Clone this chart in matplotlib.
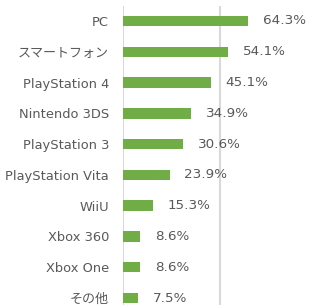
import matplotlib

matplotlib.use("Agg")
import matplotlib.pyplot as plt

categories = [
    "PC",
    "スマートフォン",
    "PlayStation 4",
    "Nintendo 3DS",
    "PlayStation 3",
    "PlayStation Vita",
    "WiiU",
    "Xbox 360",
    "Xbox One",
    "その他",
]
values = [64.3, 54.1, 45.1, 34.9, 30.6, 23.9, 15.3, 8.6, 8.6, 7.5]

BAR = "#70AD47"
TEXT = "#595959"
GRID = "#D9D9D9"

plt.rcParams["font.family"] = ["DejaVu Sans", "Noto Sans CJK JP"]

W, H = 310, 305
fig = plt.figure(figsize=(W / 100, H / 100), dpi=100)
ax = fig.add_axes([123 / W, (305 - 313.4) / H, 187 / W, 307.8 / H])

pos = list(range(len(categories)))
ax.barh(pos, values, height=0.34, color=BAR, zorder=3)
for y, v in zip(pos, values):
    ax.text(v + 7.7, y, f"{v:.1f}%", va="center", ha="left", fontsize=9.7, color=TEXT)

ax.set_xlim(0, 96.1)
ax.set_ylim(len(categories) - 0.5, -0.5)
ax.set_yticks(pos)
ax.set_yticklabels(categories, fontsize=9.4, color=TEXT)
ax.tick_params(axis="y", length=0, pad=10)
ax.set_xticks([0, 50])
ax.tick_params(axis="x", length=0, labelbottom=False)
ax.grid(axis="x", color=GRID, linewidth=1.5, zorder=0)
ax.set_axisbelow(True)
for side in ["top", "right", "bottom", "left"]:
    ax.spines[side].set_visible(False)

fig.savefig("out.png", dpi=100)
